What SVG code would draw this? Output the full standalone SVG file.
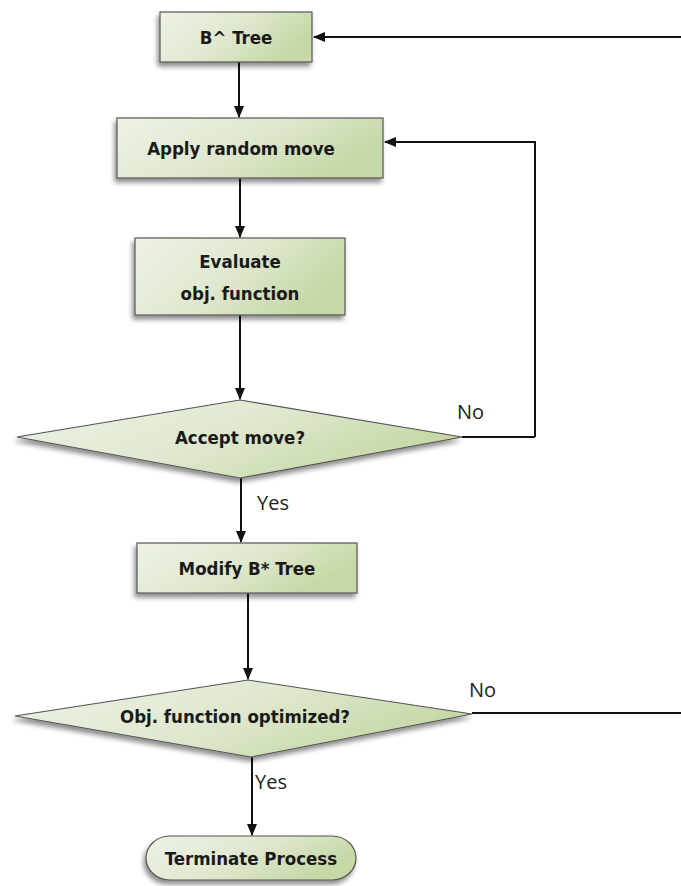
<svg xmlns="http://www.w3.org/2000/svg" width="681" height="886" viewBox="0 0 681 886">
  <defs>
    <linearGradient id="fillBox" x1="0" y1="0" x2="1" y2="0.4">
      <stop offset="0" stop-color="#eef2e6"/>
      <stop offset="0.55" stop-color="#dfe8cf"/>
      <stop offset="1" stop-color="#c6d8a6"/>
    </linearGradient>
    <filter id="shadow" x="-10%" y="-20%" width="125%" height="150%">
      <feGaussianBlur in="SourceAlpha" stdDeviation="2.5"/>
      <feOffset dx="-2" dy="4" result="b"/>
      <feComponentTransfer><feFuncA type="linear" slope="0.45"/></feComponentTransfer>
      <feMerge><feMergeNode/><feMergeNode in="SourceGraphic"/></feMerge>
    </filter>
    <marker id="arrow" viewBox="0 0 12 12" refX="11" refY="6" markerWidth="12" markerHeight="12" markerUnits="userSpaceOnUse" orient="auto">
      <path d="M0,1 L12,6 L0,11 Z" fill="#111"/>
    </marker>
    <style>
      .shape { fill: url(#fillBox); stroke: #555; stroke-width: 1.2; filter: url(#shadow); }
      .label { font-family: "DejaVu Sans Condensed", "DejaVu Sans", sans-serif; font-stretch: condensed; font-weight: bold; font-size: 18.5px; fill: #1a1a1a; text-anchor: middle; }
      .edge { fill: none; stroke: #111; stroke-width: 2; }
      .edge-label { font-family: "Open Sans", "Liberation Sans", sans-serif; font-size: 20px; fill: #222; }
    </style>
  </defs>

  <rect width="681" height="886" fill="#ffffff"/>

  <!-- connectors -->
  <g id="connectors">
    <path class="edge" d="M681,37 L314,37" marker-end="url(#arrow)"/>
    <path class="edge" d="M239,62 L239,117" marker-end="url(#arrow)"/>
    <path class="edge" d="M535,437 L535,142 L385,142" marker-end="url(#arrow)"/>
    <path class="edge" d="M462,437 L535,437"/>
    <path class="edge" d="M240,178 L240,237" marker-end="url(#arrow)"/>
    <path class="edge" d="M240,315 L240,399" marker-end="url(#arrow)"/>
    <path class="edge" d="M241,478 L241,542" marker-end="url(#arrow)"/>
    <path class="edge" d="M248,593 L248,679" marker-end="url(#arrow)"/>
    <path class="edge" d="M472,713 L681,713"/>
    <path class="edge" d="M252,757 L252,835" marker-end="url(#arrow)"/>
    <text class="edge-label" x="457" y="419">No</text>
    <text class="edge-label" x="257" y="510">Yes</text>
    <text class="edge-label" x="469" y="697">No</text>
    <text class="edge-label" x="255" y="789">Yes</text>
  </g>

  <g id="btree">
    <rect class="shape" x="160" y="12" width="152" height="50"/>
    <text class="label" x="236" y="44">B^ Tree</text>
  </g>

  <g id="apply-move">
    <rect class="shape" x="117" y="118" width="266" height="60"/>
    <text class="label" x="241" y="155">Apply random move</text>
  </g>

  <g id="evaluate">
    <rect class="shape" x="135" y="238" width="210" height="77"/>
    <text class="label" x="240" y="268">Evaluate</text>
    <text class="label" x="240" y="300">obj. function</text>
  </g>

  <g id="accept-move">
    <polygon class="shape" points="240,400 462,437 240,478 17,437"/>
    <text class="label" x="240" y="444">Accept move?</text>
  </g>

  <g id="modify-tree">
    <rect class="shape" x="137" y="543" width="220" height="50"/>
    <text class="label" x="247" y="575">Modify B* Tree</text>
  </g>

  <g id="optimized">
    <polygon class="shape" points="248,680 472,714 251,757 15,716"/>
    <text class="label" x="235" y="723">Obj. function optimized?</text>
  </g>

  <g id="terminate">
    <rect class="shape" x="146" y="836" width="210" height="44" rx="24" ry="22"/>
    <text class="label" x="251" y="865">Terminate Process</text>
  </g>
</svg>
